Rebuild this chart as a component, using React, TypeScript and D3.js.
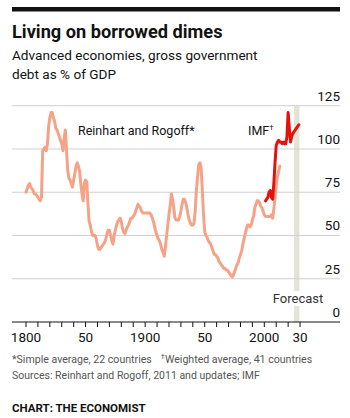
import React from "react";
import * as d3 from "d3";

// Reinhart and Rogoff, simple average of 22 countries, % of GDP
const rrYears = d3.range(1800, 2014);
const rrValues = [
  75, 77, 79, 80, 78, 77, 76, 74, 74, 73, // 1800s
  72, 71, 70, 72, 99, 100, 101, 99, 103, 113, // 1810s
  118, 121, 121, 118, 116, 112, 111, 109, 107, 105, // 1820s
  103, 99, 106, 111, 99, 88, 83, 82, 80, 78, // 1830s
  82, 86, 90, 92, 90, 87, 80, 74, 70, 80, // 1840s
  82, 81, 68, 58, 56, 52, 50, 50, 50, 48, // 1850s
  44, 42, 42, 43, 44, 45, 46, 48, 51, 53, // 1860s
  53, 50, 47, 45, 50, 53, 56, 58, 59, 60, // 1870s
  58, 54, 52, 51, 53, 55, 56, 58, 60, 60, // 1880s
  61, 62, 64, 66, 68, 67, 66, 64, 63, 63, // 1890s
  63, 63, 63, 63, 63, 62, 60, 58, 55, 52, // 1900s
  50, 48, 47, 45, 42, 40, 38, 43, 50, 56, // 1910s
  62, 67, 74, 71, 66, 60, 59, 59, 59, 61, // 1920s
  64, 68, 71, 71, 69, 66, 62, 59, 57, 56, // 1930s
  56, 57, 64, 76, 84, 91, 92, 89, 76, 62, // 1940s
  52, 50, 49, 47, 46, 45, 43, 41, 39, 39, // 1950s
  38, 37, 35, 34, 33, 32, 31, 31, 30, 30, // 1960s
  29, 28, 27, 26, 27, 29, 31, 33, 34, 37, // 1970s
  39, 41, 45, 48, 51, 54, 56, 56, 55, 56, // 1980s
  59, 61, 66, 68, 70, 70, 69, 67, 66, 64, // 1990s
  62, 61, 61, 61, 61, 61, 62, 60, 65, 72, // 2000s
  79, 84, 87, 90, // 2010-13
];

// IMF, weighted average of 41 countries, % of GDP
const imfYears = d3.range(2001, 2030);
const imfValues = [
  70, 71, 72, 75, 76, 72, 71, 80, 92, // 2001-09
  102, 104, 105, 104, 104, 103, 104, 103, 103, 107, // 2010s
  121, 112, 104, 107, 109, 110, 111, 112, 113, 114, // 2020s
];

const yTicks = [0, 25, 50, 75, 100, 125];
const xTickLabels = [
  { year: 1800, label: "1800" },
  { year: 1850, label: "50" },
  { year: 1900, label: "1900" },
  { year: 1950, label: "50" },
  { year: 2000, label: "2000" },
  { year: 2030, label: "30" },
];
const minorTicks = d3.range(1800, 2031, 10);
const forecastStart = 2025;
const forecastEnd = 2029.5;

const W = 350;
const H = 418;
const left = 12;
const right = 340;

const App = () => {
  const x = d3.scaleLinear().domain([1800, 2000]).range([26, 264.3]);
  const y = d3.scaleLinear().domain([0, 125]).range([322, 105.7]);

  const line = d3
    .line<[number, number]>()
    .x(d => x(d[0]))
    .y(d => y(d[1]))
    .curve(d3.curveLinear);

  const rr = rrYears.map((yr, i) => [yr, rrValues[i]] as [number, number]);
  const imf = imfYears.map((yr, i) => [yr, imfValues[i]] as [number, number]);

  const font = "Roboto, 'Noto Sans', sans-serif";

  return (
    <svg
      width={W}
      height={H}
      style={{ position: "absolute", left: 0, top: 0, background: "#fff" }}
      fontFamily={font}
    >
      <rect x={left} y={7} width={right - left} height={4.5} fill="#121212" />
      <text x={left} y={38} fontSize={18.2} fontWeight={700} fill="#121212">
        Living on borrowed dimes
      </text>
      <text x={left} y={60} fontSize={13.6} fill="#121212">
        Advanced economies, gross government
      </text>
      <text x={left} y={79} fontSize={13.6} fill="#121212">
        debt as % of GDP
      </text>

      {/* forecast band */}
      <rect
        x={x(forecastStart)}
        y={y(125)}
        width={x(forecastEnd) - x(forecastStart)}
        height={y(0) - y(125)}
        fill="#e4e4d6"
      />

      {/* gridlines */}
      {yTicks
        .filter(t => t > 0)
        .map(t => (
          <line
            key={t}
            x1={left}
            x2={right}
            y1={y(t)}
            y2={y(t)}
            stroke="#cfcfcf"
            strokeWidth={1}
          />
        ))}
      {yTicks.map(t => (
        <text
          key={t}
          x={right}
          y={y(t) - 5}
          textAnchor="end"
          fontSize={13.5}
          fill="#121212"
        >
          {t}
        </text>
      ))}

      {/* Forecast label */}
      <rect x={273} y={291} width={50} height={15} fill="#fff" />
      <text x={298} y={303} textAnchor="middle" fontSize={13} fill="#333">
        Forecast
      </text>

      <path
        d={line(rr) || ""}
        fill="none"
        stroke="#f5a286"
        strokeWidth={3}
        strokeLinejoin="round"
        strokeLinecap="round"
      />
      <path
        d={line(imf) || ""}
        fill="none"
        stroke="#e3120b"
        strokeWidth={3}
        strokeLinejoin="round"
        strokeLinecap="round"
      />

      <text x={78} y={135} fontSize={12.5} fill="#121212">
        Reinhart and Rogoff*
      </text>
      <text x={248} y={135} fontSize={12.5} fill="#121212">
        IMF
        <tspan fontSize={8} dy={-5}>
          †
        </tspan>
      </text>

      {/* x axis */}
      <line x1={left} x2={right} y1={y(0)} y2={y(0)} stroke="#121212" strokeWidth={1} />
      {minorTicks.map(t => (
        <line
          key={t}
          x1={x(t)}
          x2={x(t)}
          y1={y(0)}
          y2={y(0) + 5}
          stroke="#121212"
          strokeWidth={1}
        />
      ))}
      {xTickLabels.map(d => (
        <text
          key={d.year}
          x={x(d.year)}
          y={342}
          textAnchor="middle"
          fontSize={13.5}
          fill="#121212"
        >
          {d.label}
        </text>
      ))}

      <text x={left} y={363} fontSize={10.6} fill="#555">
        *Simple average, 22 countries
        <tspan dx={9} fontSize={7.5} dy={-4}>
          †
        </tspan>
        <tspan dy={4}>Weighted average, 41 countries</tspan>
      </text>
      <text x={left} y={379} fontSize={10.5} fill="#555">
        Sources: Reinhart and Rogoff, 2011 and updates; IMF
      </text>
      <text x={left} y={412} fontSize={11.5} fontWeight={700} fill="#121212">
        CHART: THE ECONOMIST
      </text>
    </svg>
  );
};

export default App;
